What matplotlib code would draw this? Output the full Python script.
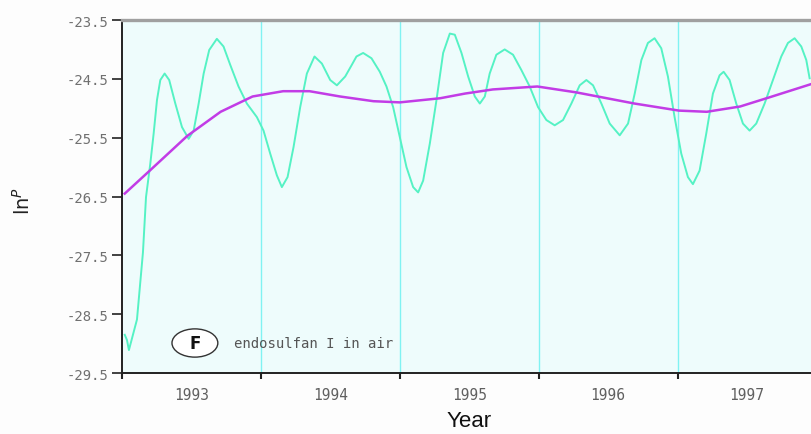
import matplotlib
matplotlib.use('Agg')
import matplotlib.pyplot as plt
from matplotlib.patches import Ellipse
from matplotlib.ticker import FixedLocator, NullFormatter

# Raw series (year, ln P)
raw_years = [1993.02, 1993.036, 1993.050, 1993.108, 1993.151, 1993.173, 1993.204, 1993.228,
             1993.252, 1993.276, 1993.307, 1993.340, 1993.384, 1993.432, 1993.480, 1993.516,
             1993.552, 1993.588, 1993.628, 1993.683, 1993.731, 1993.779, 1993.839, 1993.899,
             1993.971, 1994.019, 1994.067, 1994.115, 1994.151, 1994.192, 1994.235, 1994.283,
             1994.331, 1994.386, 1994.439, 1994.499, 1994.547, 1994.607, 1994.655, 1994.688,
             1994.736, 1994.796, 1994.856, 1994.904, 1994.952, 1995.000, 1995.048, 1995.096,
             1995.132, 1995.168, 1995.216, 1995.264, 1995.312, 1995.360, 1995.396, 1995.444,
             1995.492, 1995.540, 1995.576, 1995.612, 1995.647, 1995.695, 1995.755, 1995.815,
             1995.875, 1995.935, 1995.995, 1996.055, 1996.115, 1996.175, 1996.235, 1996.295,
             1996.343, 1996.391, 1996.451, 1996.511, 1996.583, 1996.643, 1996.691, 1996.739,
             1996.786, 1996.834, 1996.882, 1996.930, 1996.978, 1997.026, 1997.074, 1997.110,
             1997.158, 1997.206, 1997.254, 1997.302, 1997.331, 1997.374, 1997.422, 1997.470,
             1997.518, 1997.566, 1997.626, 1997.686, 1997.746, 1997.794, 1997.842, 1997.890,
             1997.926, 1997.950]
raw_lnp = [-28.85, -28.94, -29.11, -28.59, -27.45, -26.51, -25.94, -25.43,
           -24.86, -24.52, -24.41, -24.52, -24.92, -25.32, -25.52, -25.38,
           -24.92, -24.41, -24.01, -23.82, -23.95, -24.26, -24.63, -24.92,
           -25.15, -25.38, -25.77, -26.14, -26.34, -26.17, -25.66, -24.98,
           -24.41, -24.12, -24.24, -24.52, -24.61, -24.46, -24.26, -24.12,
           -24.06, -24.15, -24.38, -24.63, -24.98, -25.49, -26.00, -26.34,
           -26.43, -26.23, -25.60, -24.86, -24.06, -23.73, -23.75, -24.06,
           -24.46, -24.80, -24.92, -24.80, -24.41, -24.09, -24.00, -24.09,
           -24.35, -24.63, -24.98, -25.20, -25.29, -25.20, -24.92, -24.61,
           -24.52, -24.61, -24.92, -25.26, -25.46, -25.26, -24.75, -24.18,
           -23.89, -23.81, -23.98, -24.46, -25.15, -25.77, -26.17, -26.29,
           -26.06, -25.43, -24.75, -24.44, -24.38, -24.52, -24.92, -25.26,
           -25.38, -25.26, -24.92, -24.52, -24.12, -23.89, -23.81, -23.95,
           -24.18, -24.49]

# Long-term trend
trend_years = [1993.02, 1993.20, 1993.47, 1993.71, 1993.94, 1994.16, 1994.35, 1994.57,
               1994.81, 1995.00, 1995.29, 1995.47, 1995.67, 1995.99, 1996.27, 1996.69,
               1997.01, 1997.21, 1997.45, 1997.68, 1997.96]
trend_lnp = [-26.45, -26.06, -25.47, -25.06, -24.80, -24.71, -24.71, -24.80,
             -24.88, -24.90, -24.83, -24.75, -24.68, -24.63, -24.73, -24.92,
             -25.04, -25.06, -24.97, -24.80, -24.59]

year_edges = [1993, 1994, 1995, 1996, 1997]
year_mids = [1993.5, 1994.5, 1995.5, 1996.5, 1997.5]
year_labels = ['1993', '1994', '1995', '1996', '1997']
y_ticks = [-23.5, -24.5, -25.5, -26.5, -27.5, -28.5, -29.5]

fig = plt.figure(figsize=(8.11, 4.35), dpi=100, facecolor='#fdfdfd')
ax = fig.add_axes([0.1504, 0.1402, 0.8496, 0.8115])
ax.set_facecolor('#eefcfc')

for x in year_edges[1:]:
    ax.axvline(x, color='#80f2f2', linewidth=1.0, zorder=1)

ax.plot(raw_years, raw_lnp, color='#55f2c4', linewidth=1.4, zorder=3)
ax.plot(trend_years, trend_lnp, color='#c23ce6', linewidth=1.8, zorder=4)

ax.set_xlim(1993.0, 1997.96)
ax.set_ylim(-29.5, -23.5)

# spines
ax.spines['right'].set_visible(False)
ax.spines['top'].set_color('#a0a0a0')
ax.spines['top'].set_linewidth(2.4)
ax.spines['left'].set_color('#222222')
ax.spines['left'].set_linewidth(1.4)
ax.spines['bottom'].set_color('#222222')
ax.spines['bottom'].set_linewidth(1.4)

# ticks
ax.set_yticks(y_ticks)
ax.set_yticklabels(['%.1f' % v for v in y_ticks])
ax.tick_params(axis='y', direction='out', length=7, width=1.3, color='#333333',
               pad=3, labelsize=10, labelcolor='#707070')
for lab in ax.get_yticklabels():
    lab.set_family('DejaVu Sans Mono')

ax.xaxis.set_major_locator(FixedLocator(year_edges))
ax.xaxis.set_major_formatter(NullFormatter())
ax.xaxis.set_minor_locator(FixedLocator(year_mids))
ax.set_xticklabels(year_labels, minor=True)
ax.tick_params(axis='x', which='major', direction='out', length=4, width=1.5, color='#222222')
ax.tick_params(axis='x', which='minor', length=0, pad=10, labelsize=10.5, labelcolor='#606060')
for lab in ax.get_xticklabels(minor=True):
    lab.set_family('DejaVu Sans Mono')

# axis labels
ax.set_xlabel('Year', fontsize=16, family='Liberation Sans', color='#111111')
ax.xaxis.set_label_coords(0.504, -0.106)
ax.set_ylabel(r'ln$^{P}$', fontsize=14, family='DejaVu Sans', color='#222222')
ax.yaxis.set_label_coords(-0.128, 0.49)

# panel annotation
ax.add_patch(Ellipse((1993.525, -28.99), 0.33, 0.48, facecolor='white',
                     edgecolor='#333333', linewidth=1.0, zorder=5))
ax.text(1993.525, -28.99, 'F', fontsize=12, fontweight='bold', ha='center',
        va='center', color='#111111', zorder=6)
ax.text(1993.805, -28.99, 'endosulfan I in air', fontsize=10, family='DejaVu Sans Mono',
        ha='left', va='center', color='#555555', zorder=6)

plt.savefig('out.png', dpi=100, facecolor=fig.get_facecolor())
